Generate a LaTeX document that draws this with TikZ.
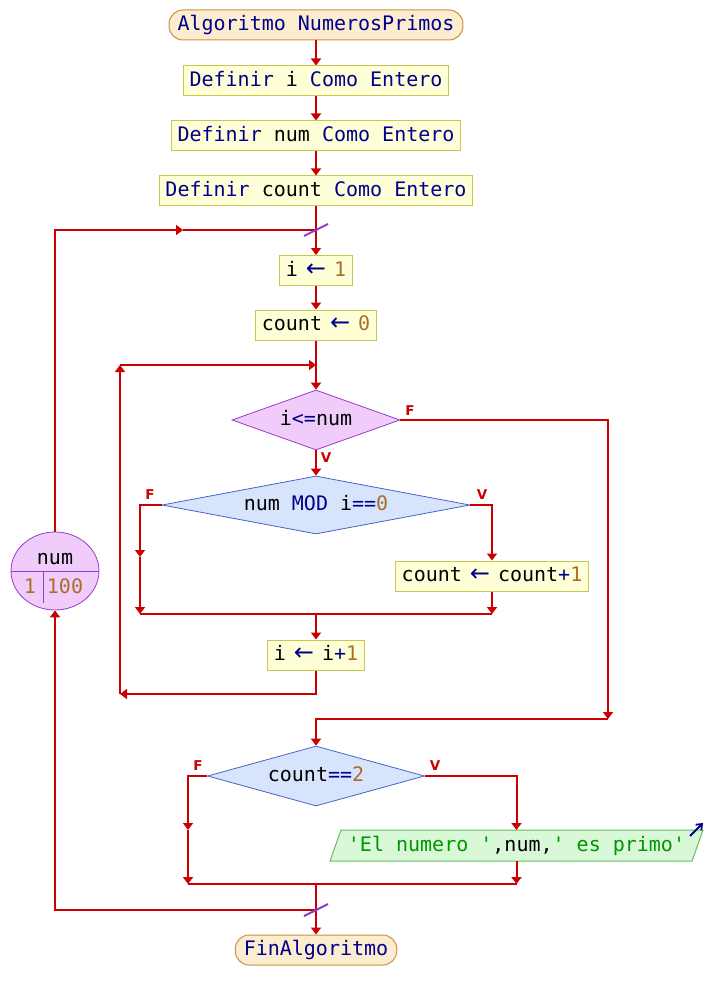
\documentclass[tikz,border=0pt]{standalone}
\usepackage{fontspec}
\setmainfont{DejaVu Sans}
\setsansfont{DejaVu Sans}
\setmonofont{DejaVu Sans Mono}
\newfontfamily\arrowfont{DejaVu Sans}
\usetikzlibrary{arrows.meta,shapes.geometric}
\definecolor{flowred}{RGB}{204,0,0}
\definecolor{kwblue}{RGB}{0,0,140}
\definecolor{numbrown}{RGB}{170,110,40}
\definecolor{strgreen}{RGB}{0,150,0}
\definecolor{procfill}{RGB}{255,255,215}
\definecolor{procdraw}{RGB}{200,200,80}
\definecolor{termfill}{RGB}{252,236,208}
\definecolor{termdraw}{RGB}{205,145,65}
\definecolor{purpfill}{RGB}{240,204,250}
\definecolor{purpdraw}{RGB}{150,60,200}
\definecolor{bluefill}{RGB}{216,228,252}
\definecolor{bluedraw}{RGB}{70,100,200}
\definecolor{outfill}{RGB}{216,248,216}
\definecolor{outdraw}{RGB}{100,190,100}
\definecolor{slashcol}{RGB}{140,60,200}
\newcommand{\kw}[1]{\textcolor{kwblue}{#1}}
\newcommand{\nm}[1]{\textcolor{numbrown}{#1}}
\newcommand{\strg}[1]{\textcolor{strgreen}{#1}}
\newcommand{\asg}{\makebox[12pt][c]{\textcolor{kwblue}{\arrowfont\fontsize{24}{24}\selectfont ←}}}
\begin{document}
\begin{tikzpicture}[x=1pt,y=-1pt,
  txtfont/.style={font=\ttfamily\fontsize{20}{24}\selectfont, text height=14.5pt, text depth=3.5pt},
  proc/.style={txtfont, draw=procdraw, fill=procfill, line width=1pt, minimum height=30pt, inner xsep=6pt, inner ysep=0pt},
  term/.style={txtfont, draw=termdraw, fill=termfill, line width=1pt, minimum height=30pt, inner xsep=8.5pt, inner ysep=0pt, rounded corners=14pt},
  decp/.style={txtfont, diamond, draw=purpdraw, fill=purpfill, line width=0.8pt, inner sep=0pt},
  decb/.style={txtfont, diamond, draw=bluedraw, fill=bluefill, line width=0.8pt, inner sep=0pt},
  plain/.style={txtfont, inner sep=0pt},
  flow/.style={draw=flowred, line width=2pt},
  arr/.style={draw=flowred, line width=2pt, -{Triangle[length=7pt,width=10pt]}},
  lbl/.style={text=flowred, font=\sffamily\bfseries\fontsize{13.5}{15}\selectfont, inner sep=0pt},
  slash/.style={draw=slashcol, line width=2pt}
]
\path[use as bounding box] (0,0) rectangle (706,1000);

% nodes
\node[term] (start) at (316,25) {\kw{Algoritmo NumerosPrimos}};
\node[proc] (d1) at (316,81) {\kw{Definir} i \kw{Como Entero}};
\node[proc] (d2) at (316,136) {\kw{Definir} num \kw{Como Entero}};
\node[proc] (d3) at (316,191) {\kw{Definir} count \kw{Como Entero}};
\node[proc] (i1) at (316,270.5) {i \asg{} \nm{1}};
\node[proc] (c0) at (316,325) {count \asg{} \nm{0}};
\node[decp, aspect=2.8, minimum width=168pt, minimum height=60pt] (w1) at (316,420) {i\kw{<=}num};
\node[decb, aspect=5.3, minimum width=308pt, minimum height=58pt] (m) at (316,505) {num \kw{MOD} i\kw{==}\nm{0}};
\node[proc] (inc1) at (492,576) {count \asg{} count\kw{+}\nm{1}};
\node[proc] (inc) at (316,655) {i \asg{} i\kw{+}\nm{1}};
\node[decb, aspect=3.6, minimum width=217pt, minimum height=60pt] (c3) at (316,776) {count\kw{==}\nm{2}};
\path[draw=outdraw, fill=outfill, line width=1pt] (330,861) -- (692,861) -- (703,830) -- (341,830) -- cycle;
\node[plain] (out) at (516.5,846) {\strg{'El numero '},num,\strg{' es primo'}};
\node[term] (fin) at (316,950) {\kw{FinAlgoritmo}};

% loop (Para) node
\node[ellipse, draw=purpdraw, fill=purpfill, line width=0.8pt, minimum width=88pt, minimum height=78pt, inner sep=0pt] (lp) at (55,571) {};
\draw[purpdraw, line width=0.8pt] (lp.west) -- (lp.east);
\coordinate (lpd1) at (43,571);
\coordinate (lpd2) at (43,603);
\draw[purpdraw, line width=0.8pt] (lpd1) -- (lpd2);
\node[plain] (lpvar) at (55,559) {num};
\node[plain] (lpfrom) at (30,588) {\nm{1}};
\node[plain] (lpto) at (65,588) {\nm{100}};

% coordinates
\coordinate (ptop) at (316,230);
\coordinate (pmid) at (183,230);
\coordinate (pbot) at (316,910);
\coordinate (wtm) at (316,365);
\coordinate (wtl) at (120,365);
\coordinate (wbl) at (120,694);
\coordinate (mfl) at (140,557);
\coordinate (mfb) at (140,614);
\coordinate (mvb) at (492,614);
\coordinate (mjoin) at (316,614);
\coordinate (wfr) at (608,719);
\coordinate (cfl) at (188,830);
\coordinate (cfb) at (188,884);
\coordinate (cvb) at (516.5,884);
\coordinate (cvt) at (516.5,830);
\coordinate (outb) at (516.5,861);
\coordinate (cjoin) at (316,884);

% main connectors
\draw[arr] (start) -- (d1);
\draw[arr] (d1) -- (d2);
\draw[arr] (d2) -- (d3);
\draw[arr] (d3) -- (i1);
\draw[arr] (i1) -- (c0);
\draw[arr] (c0) -- (w1);
\draw[arr] (w1) -- (m);
% MOD branches
\draw[arr] (m.west) -| (mfl);
\draw[arr] (mfl) -- (mfb);
\draw[arr] (m.east) -| (inc1.north);
\draw[arr] (inc1.south) -- (mvb);
\draw[flow] (mfb) -- (mvb);
\draw[arr] (mjoin) -- (inc);
% while return
\draw[arr] (inc.south) |- (wbl);
\draw[arr] (wbl) -- (wtl);
\draw[arr] (wtl) -- (wtm);
% while exit
\draw[arr] (w1.east) -| (wfr);
\draw[arr] (wfr) -| (c3.north);
% count==2 branches
\draw[arr] (c3.west) -| (cfl);
\draw[arr] (cfl) -- (cfb);
\draw[arr] (c3.east) -| (cvt);
\draw[arr] (outb) -- (cvb);
\draw[flow] (cfb) -- (cvb);
\draw[arr] (cjoin) -- (fin);
% for loop
\draw[arr] (pbot) -| (lp.south);
\draw[arr] (lp.north) |- (pmid);
\draw[flow] (pmid) -- (ptop);
\draw[slash] (304,236) -- (328,224);
\draw[slash] (304,916) -- (328,904);

% output marker
\coordinate (oa1) at (690,836);
\coordinate (oa2) at (703,823);
\draw[kwblue, line width=1.8pt, -{Straight Barb[length=5pt,width=8pt]}] (oa1) -- (oa2);

% labels
\node[lbl] (lf1) at (410,411) {F};
\node[lbl] (lv1) at (326,458) {V};
\node[lbl] (lf2) at (150,495) {F};
\node[lbl] (lv2) at (482,495) {V};
\node[lbl] (lf3) at (198,766) {F};
\node[lbl] (lv3) at (435,766) {V};
\end{tikzpicture}
\end{document}
